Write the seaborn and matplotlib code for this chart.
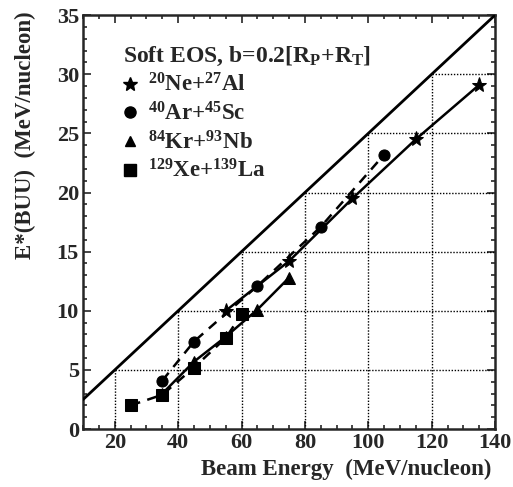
import numpy as np
import pandas as pd
import matplotlib
matplotlib.use("Agg")
import matplotlib.pyplot as plt
from matplotlib.lines import Line2D
from matplotlib.ticker import MultipleLocator
import seaborn as sns

# ---- data ----
ne_x = [55, 75, 95, 115, 135]
ne_y = [10.0, 14.2, 19.5, 24.5, 29.1]
ar_x = [35, 45, 65, 85, 105]
ar_y = [4.1, 7.4, 12.1, 17.1, 23.2]
kr_x = [35, 45, 55, 65, 75]
kr_y = [3.0, 5.7, 7.8, 10.1, 12.8]
xe_x = [25, 35, 45, 55, 60]
xe_y = [2.0, 2.9, 5.2, 7.7, 9.7]
diag_x = [10, 140]
diag_y = [2.5, 35.0]
xticks = [20, 40, 60, 80, 100, 120, 140]
yticks = [0, 5, 10, 15, 20, 25, 30, 35]
labels = [r"$^{20}$Ne+$^{27}$Al", r"$^{40}$Ar+$^{45}$Sc",
          r"$^{84}$Kr+$^{93}$Nb", r"$^{129}$Xe+$^{139}$La"]
title = r"Soft EOS, b=0.2[R$_P$+R$_T$]"

sns.set_style("ticks")
plt.rcParams["font.family"] = ["Liberation Serif", "DejaVu Serif"]
plt.rcParams["font.weight"] = "bold"
plt.rcParams["mathtext.default"] = "regular"

fig = plt.figure(figsize=(5.13, 4.87), dpi=100)
ax = fig.add_axes([0.162, 0.119, 0.803, 0.850])

# clipped grid below diagonal
for xt in xticks[:-1]:
    ax.vlines(xt, 0, xt / 4.0, colors="black", linestyles=(0, (1, 1.2)), linewidth=1.0, zorder=1)
for yt in yticks[1:-1]:
    ax.hlines(yt, yt * 4.0, 140, colors="black", linestyles=(0, (1, 1.2)), linewidth=1.0, zorder=1)

sns.lineplot(x=diag_x, y=diag_y, color="black", linewidth=2.0, ax=ax, zorder=3)
sns.lineplot(x=ne_x, y=ne_y, color="black", linewidth=1.8, marker="*", markersize=11,
             markeredgecolor="black", ax=ax, zorder=4)
sns.lineplot(x=ar_x, y=ar_y, color="black", linewidth=1.8, linestyle=(0, (4, 3)), marker="o",
             markersize=8, markeredgecolor="black", ax=ax, zorder=4)
sns.lineplot(x=kr_x, y=kr_y, color="black", linewidth=1.8, marker="^", markersize=8,
             markeredgecolor="black", ax=ax, zorder=4)
sns.lineplot(x=xe_x, y=xe_y, color="black", linewidth=1.8, linestyle=(0, (4, 3)), marker="s",
             markersize=8, markeredgecolor="black", ax=ax, zorder=4)

ax.set_xlim(10, 140)
ax.set_ylim(0, 35)
ax.set_xticks(xticks)
ax.set_yticks(yticks)
ax.xaxis.set_minor_locator(MultipleLocator(5))
ax.yaxis.set_minor_locator(MultipleLocator(1))
ax.tick_params(which="both", direction="in", top=True, right=True, width=1.2, labelsize=16)
ax.tick_params(which="major", length=6, pad=3)
ax.tick_params(which="minor", length=3)
for lab in ax.get_xticklabels() + ax.get_yticklabels():
    lab.set_fontweight("bold")
for sp in ax.spines.values():
    sp.set_linewidth(1.8)

ax.set_xlabel("Beam Energy  (MeV/nucleon)", fontsize=16.5, fontweight="bold", ha="right", va="top")
ax.xaxis.set_label_coords(0.99, -0.073)
ax.set_ylabel("E*(BUU)  (MeV/nucleon)", fontsize=16.5, fontweight="bold", ha="right")
ax.yaxis.set_label_coords(-0.115, 1.01)

handles = [Line2D([], [], color="black", marker=m, linestyle="none", markersize=s)
           for m, s in zip(["*", "o", "^", "s"], [10, 8, 7, 8])]
leg = ax.legend(handles, labels, title=title, loc="upper left", bbox_to_anchor=(0.075, 0.95),
                frameon=False, fontsize=16.5, title_fontproperties={"size": 17, "weight": "bold"},
                handlelength=0.6, handletextpad=0.5, labelspacing=0.24, borderaxespad=0,
                alignment="left")
for t in leg.get_texts():
    t.set_fontweight("bold")

fig.savefig("out.png", dpi=100)
